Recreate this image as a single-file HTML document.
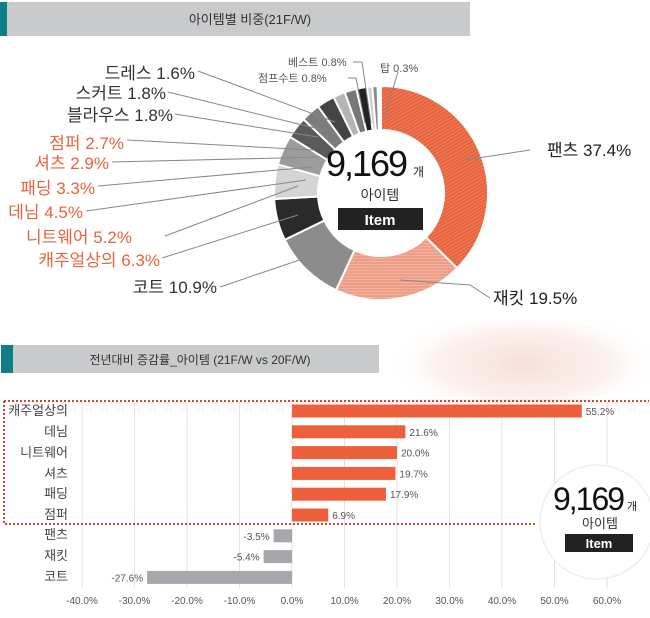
<!DOCTYPE html>
<html><head><meta charset="utf-8"><style>
body{margin:0;width:650px;height:618px;background:#fff;overflow:hidden;position:relative;font-family:"Liberation Sans","Noto Sans CJK KR",sans-serif}
</style></head><body>
<svg width="650" height="618" viewBox="0 0 650 618" xmlns="http://www.w3.org/2000/svg" style="position:absolute;left:0;top:0;font-family:'Liberation Sans','Noto Sans CJK KR',sans-serif">
<defs>
<pattern id="h1" width="3" height="3" patternUnits="userSpaceOnUse" patternTransform="rotate(60)"><rect width="3" height="3" fill="#e8643f"/><line x1="0" y1="0" x2="0" y2="3" stroke="#f4a084" stroke-width="0.8"/></pattern>
<pattern id="h2" width="3" height="3" patternUnits="userSpaceOnUse"><rect width="3" height="3" fill="#ee9e86"/><line x1="0" y1="0" x2="3" y2="0" stroke="#f8d0c2" stroke-width="0.8"/></pattern>
<radialGradient id="pk" cx="0.55" cy="0.4" r="0.5"><stop offset="0" stop-color="#f5dcd4" stop-opacity="0.9"/><stop offset="0.6" stop-color="#f8e6e0" stop-opacity="0.6"/><stop offset="1" stop-color="#fff" stop-opacity="0"/></radialGradient>
</defs>
<rect x="0" y="2" width="7" height="34" fill="#0e7f86"/>
<rect x="7" y="2" width="463" height="34" fill="#c9cacc"/>
<text x="250" y="24" font-size="13" text-anchor="middle" fill="#333">아이템별 비중(21F/W)</text>
<g id="donut" stroke="#fff" stroke-width="2"></g>
<text x="366" y="176" font-size="36" text-anchor="middle" fill="#111" letter-spacing="-2">9,169</text>
<text x="413" y="176" font-size="12" fill="#222">개</text>
<text x="380" y="200" font-size="14" text-anchor="middle" fill="#333">아이템</text>
<rect x="338" y="208" width="85" height="22" fill="#222"/>
<text x="380" y="225" font-size="15" text-anchor="middle" fill="#fff" font-weight="bold">Item</text>
<g stroke="#888" stroke-width="1" fill="none">
<polyline points="198,71 335,122"/><polyline points="168,92 323,130"/><polyline points="175,114 318,137"/>
<polyline points="127,140 313,150"/><polyline points="112,162 320,157"/><polyline points="98,186 312,167"/>
<polyline points="86,211 306,180"/><polyline points="165,236 298,186"/><polyline points="162,258 298,215"/>
<polyline points="220,287 320,253"/><polyline points="530,150 465,160"/><polyline points="490,298 470,285 400,280"/>
<polyline points="353,62 362,62 371,123"/><polyline points="348,78 356,78 365,123"/><polyline points="398,72 384,118"/>
</g>
<g font-size="17" text-anchor="end" fill="#333">
<text x="195" y="79">드레스 1.6%</text><text x="166" y="99">스커트 1.8%</text><text x="173" y="121">블라우스 1.8%</text>
<g fill="#e8643f"><text x="124" y="149">점퍼 2.7%</text><text x="109" y="169">셔츠 2.9%</text><text x="95" y="194">패딩 3.3%</text><text x="83" y="218">데님 4.5%</text><text x="132" y="243">니트웨어 5.2%</text><text x="160" y="266">캐주얼상의 6.3%</text></g>
<text x="217" y="293">코트 10.9%</text>
</g>
<text x="547" y="156" font-size="17" fill="#222">팬츠 37.4%</text>
<text x="493" y="304" font-size="17" fill="#222">재킷 19.5%</text>
<g font-size="11" fill="#555"><text x="288" y="66">베스트 0.8%</text><text x="258" y="82">점프수트 0.8%</text><text x="380" y="72">탑 0.3%</text></g>
<rect x="370" y="320" width="280" height="110" fill="url(#pk)"/>
<rect x="1" y="345" width="12" height="28" fill="#0e7f86"/>
<rect x="13" y="345" width="366" height="28" fill="#c9cacc"/>
<text x="200" y="364" font-size="12" text-anchor="middle" fill="#333">전년대비 증감률_아이템 (21F/W vs 20F/W)</text>
<g stroke="#e2e2e2" stroke-width="1" id="grid"></g>
<g id="bars"></g>
<g font-size="13" text-anchor="end" fill="#444">
<text x="68" y="415">캐주얼상의</text><text x="68" y="436">데님</text><text x="68" y="457">니트웨어</text><text x="68" y="478">셔츠</text><text x="68" y="498">패딩</text><text x="68" y="519">점퍼</text><text x="68" y="539">팬츠</text><text x="68" y="560">재킷</text><text x="68" y="581">코트</text>
</g>
<path d="M4 401 H649 M4 401 V524 H537" stroke="#d9432a" stroke-width="2" stroke-dasharray="2,2" fill="none"/>
<circle cx="597" cy="522" r="57" fill="#fff" stroke="#eee" stroke-width="1.5"/>
<text x="588" y="510" font-size="32" text-anchor="middle" fill="#111" letter-spacing="-2">9,169</text>
<text x="627" y="510" font-size="11" fill="#222">개</text>
<text x="600" y="528" font-size="13" text-anchor="middle" fill="#333">아이템</text>
<rect x="565" y="534" width="68" height="18" fill="#222"/>
<text x="599" y="548" font-size="13" text-anchor="middle" fill="#fff" font-weight="bold">Item</text>
</svg>
<script>
const ns="http://www.w3.org/2000/svg";
const cx=381,cy=193,R=107,r=63;
const d=[[37.4,"url(#h1)"],[19.5,"url(#h2)"],[10.9,"#8c8c8c"],[6.3,"#2a2a2a"],[5.2,"#d4d4d4"],[4.5,"#9c9c9c"],[3.3,"#5a5a5a"],[2.9,"#7c7c7c"],[2.7,"#444"],[1.8,"#b4b4b4"],[1.8,"#777"],[1.6,"#222"],[0.8,"#cfcfcf"],[0.8,"#8a8a8a"],[0.3,"#555"]];
let a=0;const g=document.getElementById("donut");
d.forEach(([v,c])=>{const a0=a,a1=a+v/100*2*Math.PI;a=a1;
const p=(ang,rr)=>[cx+rr*Math.sin(ang),cy-rr*Math.cos(ang)];
const [x0,y0]=p(a0,R),[x1,y1]=p(a1,R),[x2,y2]=p(a1,r),[x3,y3]=p(a0,r);const l=a1-a0>Math.PI?1:0;
const e=document.createElementNS(ns,"path");e.setAttribute("d",`M${x0} ${y0}A${R} ${R} 0 ${l} 1 ${x1} ${y1}L${x2} ${y2}A${r} ${r} 0 ${l} 0 ${x3} ${y3}Z`);e.setAttribute("fill",c);g.appendChild(e);});
const z=292,s=5.25,gr=document.getElementById("grid");
for(let t=-40;t<=60;t+=10){const x=z+t*s;const l=document.createElementNS(ns,"line");l.setAttribute("x1",x);l.setAttribute("x2",x);l.setAttribute("y1",402);l.setAttribute("y2",588);gr.appendChild(l);
const tx=document.createElementNS(ns,"text");tx.setAttribute("x",x);tx.setAttribute("y",604);tx.setAttribute("font-size","10");tx.setAttribute("fill","#555");tx.setAttribute("text-anchor","middle");tx.setAttribute("stroke","none");tx.textContent=t.toFixed(1)+"%";gr.appendChild(tx);}
const b=[55.2,21.6,20.0,19.7,17.9,6.9,-3.5,-5.4,-27.6],bg=document.getElementById("bars");
b.forEach((v,i)=>{const y=411+i*20.8;const w=Math.abs(v)*s;const x=v>0?z:z-w;const rc=document.createElementNS(ns,"rect");
rc.setAttribute("x",x);rc.setAttribute("y",y-6.5);rc.setAttribute("width",w);rc.setAttribute("height",13);rc.setAttribute("fill",v>0?"#ee5f3b":"#a6a7aa");bg.appendChild(rc);
const t=document.createElementNS(ns,"text");t.setAttribute("font-size","10");t.setAttribute("fill","#555");t.setAttribute("y",y+4);
if(v>0){t.setAttribute("x",z+w+4);}else{t.setAttribute("x",x-4);t.setAttribute("text-anchor","end");}
t.textContent=v.toFixed(1)+"%";bg.appendChild(t);});
</script>
</body></html>
